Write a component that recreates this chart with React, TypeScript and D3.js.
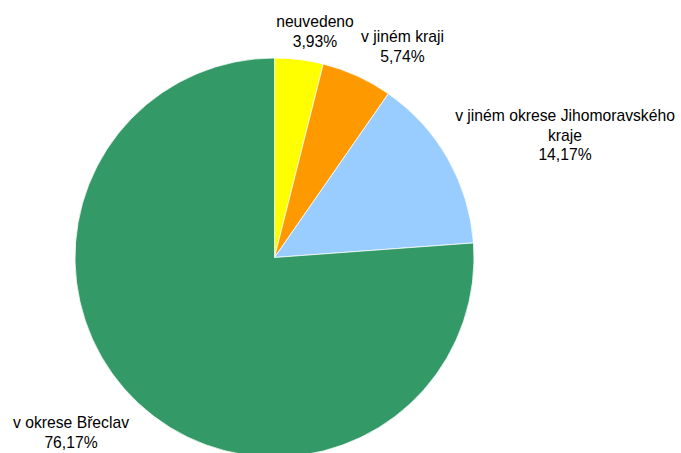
import React from "react";
import * as d3 from "d3";

const categories = ["neuvedeno", "v jiném kraji", "v jiném okrese Jihomoravského kraje", "v okrese Břeclav"];
const values = [3.93, 5.74, 14.17, 76.17];
const labelText = ["3,93%", "5,74%", "14,17%", "76,17%"];
const colors = ["#FFFF00", "#FF9900", "#99CCFF", "#339966"];
const labelLines: string[][] = [
  ["neuvedeno", "3,93%"],
  ["v jiném kraji", "5,74%"],
  ["v jiném okrese Jihomoravského", "kraje", "14,17%"],
  ["v okrese Břeclav", "76,17%"],
];
const labelPos: [number, number][] = [
  [315, 27],
  [402.5, 42],
  [565, 121],
  [71, 428],
];

const W = 681;
const H = 453;
const cx = 274.5;
const cy = 257.5;
const R = 199.5;

export default function App() {
  const data = categories.map((c, i) => ({ c, v: values[i], i }));
  const pie = d3.pie<any>().sort(null).value((d) => d.v);
  const arcs = pie(data);
  const arc = d3.arc<any>().innerRadius(0).outerRadius(R);
  return (
    <svg
      width={W}
      height={H}
      style={{ position: "absolute", left: 0, top: 0, background: "#fff" }}
    >
      <g transform={`translate(${cx},${cy})`}>
        {arcs.map((a, i) => (
          <path key={i} d={arc(a) || ""} fill={colors[i]} stroke="#ffffff" strokeWidth={0.75} />
        ))}
      </g>
      {labelLines.map((lines, i) => (
        <text
          key={i}
          textAnchor="middle"
          fontFamily="'Liberation Sans', Arial, sans-serif"
          fontSize={15.7}
          fill="#000"
        >
          {lines.map((l, j) => (
            <tspan key={j} x={labelPos[i][0]} y={labelPos[i][1] + j * 19.5}>
              {l}
            </tspan>
          ))}
        </text>
      ))}
    </svg>
  );
}
